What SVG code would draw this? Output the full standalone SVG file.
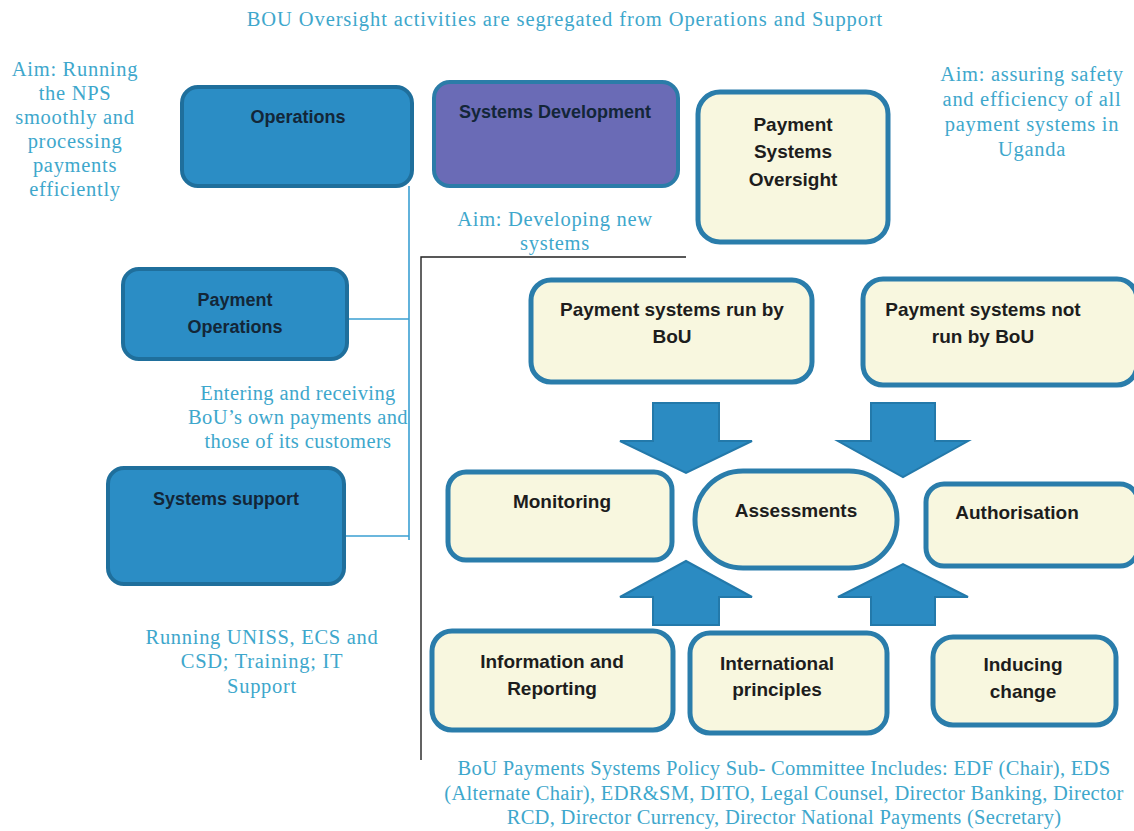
<svg xmlns="http://www.w3.org/2000/svg" width="1134" height="831" viewBox="0 0 1134 831">
  <style>
    .note { font-family: "Liberation Serif", "Times New Roman", serif; font-size: 20.5px; letter-spacing: 0.7px; fill: #3ea7cc; text-anchor: middle; }
    .lbl { font-family: "Liberation Sans", Arial, sans-serif; font-weight: bold; font-size: 19px; fill: #1d1d1d; text-anchor: middle; }
    .lbl-dark { font-family: "Liberation Sans", Arial, sans-serif; font-weight: bold; font-size: 18px; fill: #132638; text-anchor: middle; }
    .box-blue { fill: #2b8dc5; stroke: #1f6f9c; stroke-width: 4; }
    .box-purple { fill: #6a6bb6; stroke: #2b7ca8; stroke-width: 4; }
    .box-cream { fill: #f8f7df; stroke: #2a7dab; stroke-width: 5; }
    .link { stroke: #3a9fd2; stroke-width: 1.6; fill: none; }
    .rule { stroke: #222; stroke-width: 1.4; fill: none; }
    .blockarrow { fill: #2b8bc2; stroke: #2379aa; stroke-width: 2; stroke-linejoin: miter; }
  </style>

  <rect x="0" y="0" width="1134" height="831" fill="#ffffff"/>

  <!-- headline -->
  <text class="note" x="565" y="26" style="letter-spacing:0.9px">BOU Oversight activities are segregated from Operations and Support</text>

  <!-- side annotations -->
  <g id="aim-operations">
    <text class="note" x="75" y="76">Aim: Running</text>
    <text class="note" x="75" y="100">the NPS</text>
    <text class="note" x="75" y="124">smoothly and</text>
    <text class="note" x="75" y="148">processing</text>
    <text class="note" x="75" y="172">payments</text>
    <text class="note" x="75" y="196">efficiently</text>
  </g>
  <g id="aim-oversight">
    <text class="note" x="1032" y="81">Aim: assuring safety</text>
    <text class="note" x="1032" y="106">and efficiency of all</text>
    <text class="note" x="1032" y="131">payment systems in</text>
    <text class="note" x="1032" y="156">Uganda</text>
  </g>
  <g id="aim-development">
    <text class="note" x="555" y="226">Aim: Developing new</text>
    <text class="note" x="555" y="250">systems</text>
  </g>
  <g id="note-payment-ops" style="letter-spacing:0.4px">
    <text class="note" x="298" y="400" style="letter-spacing:0.4px">Entering and receiving</text>
    <text class="note" x="298" y="424" style="letter-spacing:0.4px">BoU’s own payments and</text>
    <text class="note" x="298" y="448" style="letter-spacing:0.4px">those of its customers</text>
  </g>
  <g id="note-support">
    <text class="note" x="262" y="644">Running UNISS, ECS and</text>
    <text class="note" x="262" y="668">CSD; Training; IT</text>
    <text class="note" x="262" y="693">Support</text>
  </g>
  <g id="note-committee">
    <text class="note" x="784" y="775" style="letter-spacing:0.3px">BoU Payments Systems  Policy Sub- Committee Includes:  EDF (Chair), EDS</text>
    <text class="note" x="784" y="800" style="letter-spacing:0.3px">(Alternate Chair), EDR&amp;SM, DITO, Legal Counsel, Director Banking, Director</text>
    <text class="note" x="784" y="824" style="letter-spacing:0.3px">RCD, Director Currency, Director National Payments (Secretary)</text>
  </g>

  <!-- connectors: tree lines, oversight bracket and block arrows -->
  <g id="connectors">
    <path class="link" d="M409,186 V540"/>
    <path class="link" d="M348,319 H409"/>
    <path class="link" d="M344,536 H409"/>
    <path class="rule" d="M686,257 H421 V760"/>
    <polygon class="blockarrow" points="653,403 719,403 719,441 752,441 686,473 620,441 653,441"/>
    <polygon class="blockarrow" points="871,403 935,403 935,441 968,441 903,477 838,441 871,441"/>
    <polygon class="blockarrow" points="653,625 719,625 719,597 752,597 686,561 620,597 653,597"/>
    <polygon class="blockarrow" points="871,625 935,625 935,597 968,597 903,564 838,597 871,597"/>
  </g>

  <!-- nodes -->
  <g id="operations">
    <rect class="box-blue" x="182" y="87" width="230" height="99" rx="16"/>
    <text class="lbl-dark" x="298" y="123" font-size="19">Operations</text>
  </g>
  <g id="systems-development">
    <rect class="box-purple" x="434" y="82" width="244" height="104" rx="16"/>
    <text class="lbl-dark" x="555" y="118" font-size="17">Systems Development</text>
  </g>
  <g id="payment-systems-oversight">
    <rect class="box-cream" x="698" y="92" width="190" height="150" rx="22"/>
    <text class="lbl" x="793" y="131">Payment</text>
    <text class="lbl" x="793" y="158">Systems</text>
    <text class="lbl" x="793" y="186">Oversight</text>
  </g>
  <g id="payment-operations">
    <rect class="box-blue" x="123" y="269" width="224" height="90" rx="16"/>
    <text class="lbl-dark" x="235" y="306">Payment</text>
    <text class="lbl-dark" x="235" y="333">Operations</text>
  </g>
  <g id="systems-support">
    <rect class="box-blue" x="108" y="468" width="236" height="116" rx="16"/>
    <text class="lbl-dark" x="226" y="505">Systems support</text>
  </g>
  <g id="run-by-bou">
    <rect class="box-cream" x="531" y="280" width="281" height="102" rx="20"/>
    <text class="lbl" x="672" y="316">Payment systems run by</text>
    <text class="lbl" x="672" y="343">BoU</text>
  </g>
  <g id="not-run-by-bou">
    <rect class="box-cream" x="863" y="279" width="274" height="106" rx="20"/>
    <text class="lbl" x="983" y="316">Payment systems not</text>
    <text class="lbl" x="983" y="343">run by BoU</text>
  </g>
  <g id="monitoring">
    <rect class="box-cream" x="448" y="472" width="224" height="88" rx="18"/>
    <text class="lbl" x="562" y="508">Monitoring</text>
  </g>
  <g id="assessments">
    <rect class="box-cream" x="695" y="471" width="202" height="97" rx="48"/>
    <text class="lbl" x="796" y="517">Assessments</text>
  </g>
  <g id="authorisation">
    <rect class="box-cream" x="926" y="484" width="212" height="82" rx="18"/>
    <text class="lbl" x="1017" y="519">Authorisation</text>
  </g>
  <g id="information-reporting">
    <rect class="box-cream" x="432" y="631" width="241" height="99" rx="20"/>
    <text class="lbl" x="552" y="668">Information and</text>
    <text class="lbl" x="552" y="695">Reporting</text>
  </g>
  <g id="international-principles">
    <rect class="box-cream" x="690" y="633" width="197" height="100" rx="20"/>
    <text class="lbl" x="777" y="670">International</text>
    <text class="lbl" x="777" y="696">principles</text>
  </g>
  <g id="inducing-change">
    <rect class="box-cream" x="933" y="637" width="183" height="88" rx="20"/>
    <text class="lbl" x="1023" y="671">Inducing</text>
    <text class="lbl" x="1023" y="698">change</text>
  </g>
</svg>
